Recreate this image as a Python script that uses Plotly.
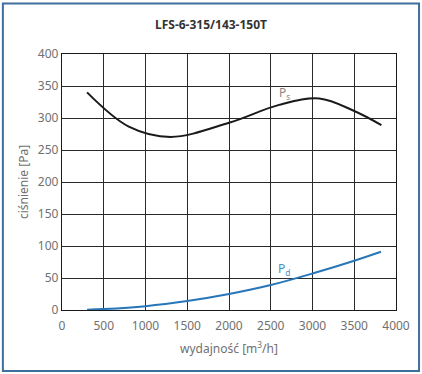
import plotly.graph_objects as go

title = "LFS-6-315/143-150T"
x_label = "wydajność [m<sup>3</sup>/h]"
y_label = "ciśnienie [Pa]"

ps_x = [300, 800, 1300, 2000, 2600, 3080, 3500, 3825]
ps_y = [340, 286.5, 270.5, 292.5, 320.5, 330.5, 311, 289]

pd_x = [300, 500, 1000, 1500, 2000, 2500, 3000, 3500, 3820]
pd_y = [0.5, 1.5, 6, 14, 25, 39, 57, 77, 91]

x_ticks = [0, 500, 1000, 1500, 2000, 2500, 3000, 3500, 4000]
y_ticks = [0, 50, 100, 150, 200, 250, 300, 350, 400]

FONT = "Noto Sans"
fig = go.Figure()
fig.add_trace(go.Scatter(x=ps_x, y=ps_y, mode="lines", line=dict(color="#1a1a1a", width=2, shape="spline", smoothing=1), showlegend=False))
fig.add_trace(go.Scatter(x=pd_x, y=pd_y, mode="lines", line=dict(color="#2676b8", width=2, shape="spline"), showlegend=False))

fig.add_annotation(x=2660, y=339, text="P<sub>s</sub>", showarrow=False, font=dict(family=FONT, size=12, color="#888888"))
fig.add_annotation(x=2660, y=64, text="P<sub>d</sub>", showarrow=False, font=dict(family=FONT, size=12, color="#4a90c8"))

fig.add_shape(type="rect", xref="paper", yref="paper", x0=-0.177, x1=1.069, y0=-0.238, y1=1.197,
              line=dict(color="#3f6f9c", width=2), layer="below")

axis_common = dict(showgrid=True, gridcolor="#2a2a2a", gridwidth=1.3, showline=True, linecolor="#1a1a1a",
                   linewidth=1.3, mirror=True, zeroline=False, ticks="",
                   tickfont=dict(family=FONT, size=12, color="#707070"))

fig.update_layout(
    width=422, height=374,
    margin=dict(l=62, r=26, t=54, b=64),
    paper_bgcolor="white", plot_bgcolor="white",
    hovermode=False,
    title=dict(text="<b>" + title + "</b>", x=0.5, xanchor="center", y=0.935, yanchor="middle",
               font=dict(family=FONT, size=12, color="#333333")),
    xaxis=dict(range=[0, 4000], tickvals=x_ticks, ticklabelstandoff=4,
               title=dict(text=x_label, font=dict(family=FONT, size=12, color="#707070"), standoff=12),
               **axis_common),
    yaxis=dict(range=[0, 400], tickvals=y_ticks,
               title=dict(text=y_label, font=dict(family=FONT, size=12, color="#707070"), standoff=6),
               **axis_common),
)

fig.write_html("out.html", config={"displayModeBar": False},
               post_script="document.body.style.margin='0';document.body.style.overflow='hidden';")
